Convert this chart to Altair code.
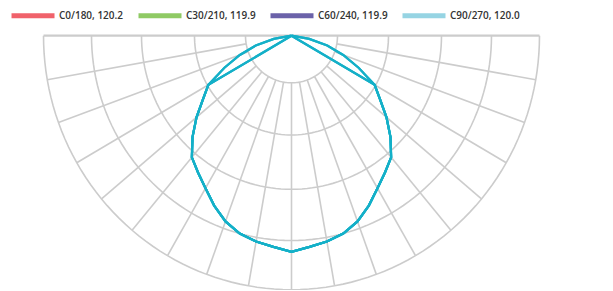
import altair as alt
import pandas as pd

# ---- data ----
series_names = ["C0/180, 120.2", "C30/210, 119.9", "C60/240, 119.9", "C90/270, 120.0"]
legend_colors = ["#f0626b", "#8fca64", "#6b62a9", "#96d4e3"]
curve_color = "#14b0c8"

gamma = [0, 5, 10, 15, 20, 25, 30, 35, 40, 45, 50, 55, 60, 65, 70, 75, 80, 85, 90]
c0_180 = [211, 207, 204, 200, 193, 183, 172, 163, 155, 140, 124, 108, 96, 0, 0, 0, 0, 0, 0]
c30_210 = [211, 207, 204, 200, 193, 183, 172, 163, 155, 140, 124, 108, 96, 0, 0, 0, 0, 0, 0]
c60_240 = [211, 207, 204, 200, 193, 183, 172, 163, 155, 140, 124, 108, 96, 74, 55, 37, 18, 0, 0]
c90_270 = [211, 207, 204, 200, 193, 183, 172, 163, 155, 140, 124, 108, 96, 74, 55, 37, 18, 0, 0]

rings = [46, 97, 150, 200, 248]
spoke_angles = [-80, -70, -60, -50, -40, -30, -20, -10, 0, 10, 20, 30, 40, 50, 60, 70, 80]

grid_color = "#cccccc"

# ---- tables ----
rows = []
for name, vals in zip(series_names, [c0_180, c30_210, c60_240, c90_270]):
    # left half (C180.. side) from 90 down to 0, then right half 0..90
    for g, v in zip(reversed(gamma), list(reversed(vals))):
        rows.append({"series": name, "ang": -g, "r": v})
    for g, v in zip(gamma[1:], vals[1:]):
        rows.append({"series": name, "ang": g, "r": v})
curve_df = pd.DataFrame(rows)
curve_df["ord"] = range(len(curve_df))

ring_df = pd.DataFrame({"r": rings})
spoke_df = pd.DataFrame({"ang": spoke_angles})
top_df = pd.DataFrame({"x0": [-rings[-1]], "x1": [rings[-1]], "y0": [0]})
legend_df = pd.DataFrame({"series": series_names, "x0": [0] * 4, "y0": [-100] * 4})

W, H = 567, 254
xs = alt.Scale(domain=[-W / 2, W / 2], nice=False, zero=False)
ys = alt.Scale(domain=[-rings[-1], 0], nice=False, zero=False)

ring_layer = alt.Chart(ring_df).transform_calculate(
    a="sequence(-90, 91, 2)"
).transform_flatten(["a"]).transform_calculate(
    px="datum.r*sin(datum.a*PI/180)", py="-datum.r*cos(datum.a*PI/180)"
).mark_line(color=grid_color, strokeWidth=1.6).encode(
    x=alt.X("px:Q", scale=xs, axis=None),
    y=alt.Y("py:Q", scale=ys, axis=None),
    detail="r:N",
    order="a:Q",
)

r_in, r_out = rings[0], rings[-1]
spoke_layer = alt.Chart(spoke_df).transform_calculate(
    px=f"{r_in}*sin(datum.ang*PI/180)",
    py=f"-{r_in}*cos(datum.ang*PI/180)",
    px2=f"{r_out}*sin(datum.ang*PI/180)",
    py2=f"-{r_out}*cos(datum.ang*PI/180)",
).mark_rule(color=grid_color, strokeWidth=1.6).encode(
    x=alt.X("px:Q", scale=xs, axis=None),
    y=alt.Y("py:Q", scale=ys, axis=None),
    x2="px2:Q",
    y2="py2:Q",
)

top_layer = alt.Chart(top_df).mark_rule(color=grid_color, strokeWidth=2.2).encode(
    x=alt.X("x0:Q", scale=xs, axis=None),
    x2="x1:Q",
    y=alt.Y("y0:Q", scale=ys, axis=None),
)

curve_layer = alt.Chart(curve_df).transform_calculate(
    px="datum.r*sin(datum.ang*PI/180)", py="-datum.r*cos(datum.ang*PI/180)"
).mark_line(strokeWidth=2.2, strokeJoin="miter").encode(
    x=alt.X("px:Q", scale=xs, axis=None),
    y=alt.Y("py:Q", scale=ys, axis=None),
    detail="series:N",
    order="ord:Q",
    color=alt.value(curve_color),
)

legend_layer = alt.Chart(legend_df).mark_line().encode(
    x=alt.X("x0:Q", scale=xs, axis=None),
    y=alt.Y("y0:Q", scale=ys, axis=None),
    color=alt.Color(
        "series:N",
        sort=series_names,
        scale=alt.Scale(domain=series_names, range=legend_colors),
        legend=alt.Legend(
            title=None,
            orient="none",
            direction="horizontal",
            legendX=1,
            legendY=-44,
            symbolType="stroke",
            symbolStrokeWidth=5,
            symbolSize=1849,
            labelFont="Open Sans",
            labelFontWeight=600,
            labelFontSize=10,
            labelColor="#333333",
            labelOffset=2,
            columnPadding=4,
            padding=0,
        ),
    ),
)

chart = alt.layer(ring_layer, spoke_layer, top_layer, curve_layer, legend_layer).properties(
    width=W,
    height=H,
    autosize=alt.AutoSizeParams(type="none"),
    padding={"left": 0, "top": 27.7, "right": 0, "bottom": 0},
).configure_view(stroke=None)

chart.save("out.html", embed_options={"renderer": "svg", "actions": False})
